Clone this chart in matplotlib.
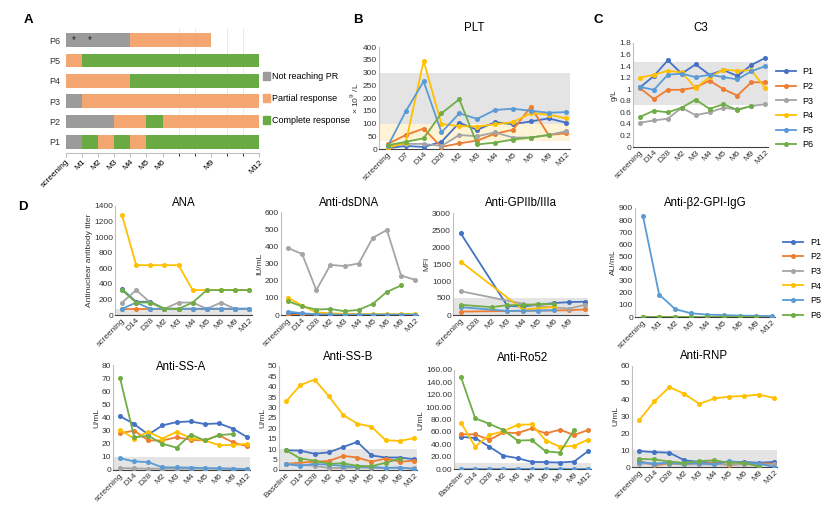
import numpy as np
import matplotlib
matplotlib.use("Agg")
import matplotlib.pyplot as plt
from matplotlib.patches import Patch

plt.rcParams['font.family'] = ['Liberation Sans', 'DejaVu Sans']

W, H = 831, 514

patients = ['P1', 'P2', 'P3', 'P4', 'P5', 'P6']
colors = ['#4472C4', '#ED7D31', '#A5A5A5', '#FFC000', '#5B9BD5', '#70AD47']
nan = np.nan

# ---- panel A : response over months (start month, end month, status)
a_months = [0, 1, 2, 3, 4, 5, 6, 9, 12]
a_labels = ['screening', 'M1', 'M2', 'M3', 'M4', 'M5', 'M6', 'M9', 'M12']
resp_P1 = [(0, 1, 'NR'), (1, 2, 'CR'), (2, 3, 'PR'), (3, 4, 'CR'), (4, 5, 'PR'), (5, 12, 'CR')]
resp_P2 = [(0, 3, 'NR'), (3, 5, 'PR'), (5, 6, 'CR'), (6, 12, 'PR')]
resp_P3 = [(0, 1, 'NR'), (1, 12, 'PR')]
resp_P4 = [(0, 4, 'PR'), (4, 12, 'CR')]
resp_P5 = [(0, 1, 'PR'), (1, 12, 'CR')]
resp_P6 = [(0, 4, 'NR'), (4, 9, 'PR')]
star_months_P6 = [0.5, 1.5]
resp_colors = {'NR': '#9B9B9B', 'PR': '#F3A66F', 'CR': '#6AAA43'}
resp_names = {'NR': 'Not reaching PR', 'PR': 'Partial response', 'CR': 'Complete response'}

# ---- panel B : PLT
plt_cats = ['screening', 'D7', 'D14', 'D28', 'M2', 'M3', 'M4', 'M5', 'M6', 'M9', 'M12']
plt_P1 = [3, 12, 8, 28, 103, 75, 105, 97, 108, 120, 103]
plt_P2 = [20, 55, 80, 8, 22, 33, 60, 75, 165, 55, 62]
plt_P3 = [10, 20, 20, 12, 55, 50, 65, 45, 45, 55, 70]
plt_P4 = [5, 25, 345, 98, 90, 88, 97, 105, 140, 135, 120]
plt_P5 = [12, 148, 265, 65, 140, 118, 153, 158, 150, 142, 145]
plt_P6 = [15, 28, 42, 140, 195, 18, 25, 37, 45, 55, nan]

# ---- panel C : C3
c3_cats = ['screening', 'D14', 'D28', 'M2', 'M3', 'M4', 'M5', 'M6', 'M9', 'M12']
c3_P1 = [1.03, 1.23, 1.50, 1.27, 1.43, 1.25, 1.33, 1.23, 1.42, 1.54]
c3_P2 = [1.02, 0.83, 0.99, 0.99, 1.03, 1.15, 1.00, 0.89, 1.12, 1.12]
c3_P3 = [0.42, 0.46, 0.49, 0.68, 0.55, 0.60, 0.68, 0.65, 0.71, 0.74]
c3_P4 = [1.20, 1.25, 1.32, 1.29, 1.02, 1.21, 1.34, 1.32, 1.33, 1.02]
c3_P5 = [1.04, 0.99, 1.25, 1.27, 1.21, 1.25, 1.21, 1.17, 1.31, 1.40]
c3_P6 = [0.52, 0.63, 0.60, 0.68, 0.82, 0.66, 0.74, 0.64, 0.71, nan]

# ---- panel D
d_cats = ['screening', 'D14', 'D28', 'M2', 'M3', 'M4', 'M5', 'M6', 'M9', 'M12']
base_cats = ['Baseline', 'D14', 'D28', 'M2', 'M3', 'M4', 'M5', 'M6', 'M9', 'M12']
gp_cats = ['screening', 'D28', 'M2', 'M3', 'M4', 'M5', 'M6', 'M9', '']
b2_cats = ['screening', 'M1', 'M2', 'M3', 'M4', 'M5', 'M6', 'M9', 'M12']

ana_P1 = [330, 170, 170, 80, 80, 80, 80, 80, 80, 80]
ana_P2 = [80, 80, 80, 80, 80, 80, 80, 80, 80, 80]
ana_P3 = [160, 320, 160, 80, 160, 160, 80, 160, 80, 80]
ana_P4 = [1280, 640, 640, 640, 640, 320, 320, 320, 320, 320]
ana_P5 = [80, 160, 80, 80, 80, 80, 80, 80, 80, 80]
ana_P6 = [320, 160, 160, 80, 80, 160, 320, 320, 320, 320]

ds_P1 = [10, 5, 3, 2, 2, 2, 2, 2, 2, 2]
ds_P2 = [2, 2, 2, 2, 2, 2, 2, 2, 2, 2]
ds_P3 = [390, 355, 145, 292, 285, 300, 450, 495, 230, 205]
ds_P4 = [100, 55, 15, 10, 7, 5, 5, 5, 5, 5]
ds_P5 = [20, 10, 5, 3, 2, 2, 2, 2, 2, 2]
ds_P6 = [80, 50, 32, 35, 22, 30, 65, 135, 172, nan]

gp_P1 = [2400, nan, nan, 270, 250, 300, 350, 380, 390]
gp_P2 = [100, nan, nan, nan, nan, nan, nan, 140, 165]
gp_P3 = [700, nan, nan, nan, 330, 270, 220, 190, 300]
gp_P4 = [1570, nan, nan, nan, 160, nan, 240, nan, nan]
gp_P5 = [230, nan, nan, 120, 125, 130, 140, nan, nan]
gp_P6 = [300, nan, 230, 290, 290, 320, 320, nan, nan]

b2_P1 = [1, 1, 1, 1, 1, 1, 1, 1, 1]
b2_P2 = [1, 1, 1, 1, 1, 1, 1, 1, 1]
b2_P3 = [1, 1, 1, 1, 1, 1, 1, 1, 1]
b2_P4 = [1, 1, 1, 1, 1, 1, 1, 1, 1]
b2_P5 = [830, 185, 65, 30, 20, 15, 12, 10, 8]
b2_P6 = [2, 2, 2, 2, 2, 2, 2, 2, nan]

ssa_P1 = [41, 35, 27, 34, 36.5, 37, 35, 35.5, 31.5, 25]
ssa_P2 = [28, 30, 22.5, 22.5, 25, 23, 22.5, 26.5, 21, 18]
ssa_P3 = [1.5, 1.2, 1, 1, 1, 1, 1, 1, 1, 0.8]
ssa_P4 = [30.5, 24, 29, 24, 29, 24.5, 22.5, 19, 19, 20]
ssa_P5 = [9, 6.5, 6, 2, 2, 1.8, 1.5, 1.2, 1, 0.5]
ssa_P6 = [70, 25, 26, 20, 17, 27, 22.5, 26.5, 27.5, nan]

ssb_P1 = [9.5, 9.3, 7.8, 8.5, 11, 13.5, 7, 6, 6, 5.2]
ssb_P2 = [3, 3.5, 4, 4.3, 6.8, 6, 4, 5.5, 4, 4.5]
ssb_P3 = [3, 2.5, 2, 1, 1, 1.2, 1, 1, 1, 0.8]
ssb_P4 = [33, 40.8, 43.5, 35.5, 26.5, 22.3, 20.8, 14.3, 14, 15.3]
ssb_P5 = [2.8, 2, 3, 2.5, 2, 1.5, 1.5, 1, 1.2, 0.5]
ssb_P6 = [9.5, 5.5, 4.5, 3, 3.2, 2, 1.8, 3.5, 5.5, nan]

ro_P1 = [52, 50, 36, 21.5, 17.5, 11.5, 11, 10.5, 12, 29]
ro_P2 = [56, 56, 47, 59, 58, 65.5, 57.5, 63.5, 55, 63]
ro_P3 = [0.3, 0.3, 0.3, 0.3, 0.3, 0.3, 0.3, 0.3, 0.3, 0.3]
ro_P4 = [74.5, 36, 55, 61, 71.5, 72, 46, 36, 37.5, 47.5]
ro_P5 = [0.6, 0.6, 0.6, 0.6, 0.6, 0.6, 0.6, 0.6, 0.6, 0.6]
ro_P6 = [148, 82, 73, 63, 46, 46.5, 28.5, 26.5, 63, nan]

rnp_P1 = [9.5, 8.8, 8.5, 4, 3, 2.5, 3, 3, 2.5, 3]
rnp_P2 = [3.5, 1, 2, 1.5, 2, 2.5, 1, 2, 2, 2]
rnp_P3 = [2, 2, 2, 1.5, 1.5, 1.5, 1.5, 1.5, 1.5, 1.5]
rnp_P4 = [28, 39, 47.5, 43.5, 37.5, 40.7, 41.8, 42.2, 43, 41]
rnp_P5 = [3, 2, 2.5, 2, 2.5, 1.5, 3.5, 2.5, 2, 0]
rnp_P6 = [4.8, 4.5, 3.2, 2.5, 3.5, 4, 2.5, 2.5, 0.2, nan]

fig = plt.figure(figsize=(W / 100, H / 100), dpi=100)
fig.patch.set_facecolor('white')

TICK = 6
TITLE = 8.3


def px_axes(l, t, r, b):
    return fig.add_axes([l / W, 1 - b / H, (r - l) / W, (b - t) / H])


def fig_text(x, y, s, **kw):
    fig.text(x / W, 1 - y / H, s, **kw)


def style_axes(ax):
    for s in ['top', 'right']:
        ax.spines[s].set_visible(False)
    ax.spines['left'].set_color('#BFBFBF')
    ax.spines['bottom'].set_color('#404040')
    ax.spines['left'].set_linewidth(0.8)
    ax.spines['bottom'].set_linewidth(0.8)
    ax.tick_params(axis='both', labelsize=TICK, length=0, pad=1.5, colors='#333333')


def line_panel(box, title, title_y, cats, series, ylim, ystep, ylabel,
               band=None, fmt=None, legend_box=None):
    ax = px_axes(*box)
    style_axes(ax)
    n = len(cats)
    x = np.arange(n)
    if band is not None:
        ax.axhspan(band[0], band[1], color='#E4E4E4', lw=0, zorder=0)
    for vals, c, name in zip(series, colors, patients):
        v = np.array(vals, dtype=float)
        m = ~np.isnan(v)
        ax.plot(x[m], v[m], color=c, lw=1.3, marker='o', ms=2.6, label=name, zorder=3)
    ax.set_xlim(-0.5, n - 0.8)
    ax.set_ylim(*ylim)
    ax.set_yticks(np.arange(ylim[0], ylim[1] + ystep / 2, ystep))
    if fmt is not None:
        ax.set_yticklabels([fmt.format(t) for t in ax.get_yticks()])
    ax.set_xticks(x)
    ax.set_xticklabels(cats, rotation=45, ha='right', rotation_mode='anchor')
    ax.set_ylabel(ylabel, fontsize=6, labelpad=1, color='#333333')
    l, t, r, b = box
    fig_text((l + r) / 2, title_y, title, fontsize=TITLE, ha='center', va='center')
    if legend_box is not None:
        ax.legend(loc='upper left', bbox_to_anchor=legend_box, frameon=False,
                  fontsize=6.5, handlelength=2.2, labelspacing=0.62, borderaxespad=0)
    return ax


# ---- panel A
axA = px_axes(66, 28, 259, 153)
resp_all = [resp_P1, resp_P2, resp_P3, resp_P4, resp_P5, resp_P6]
for i, segs in enumerate(resp_all):
    for s0, s1, st in segs:
        axA.barh(i, s1 - s0, left=s0, height=0.68, color=resp_colors[st], lw=0, zorder=2)
for sm in star_months_P6:
    axA.text(sm, 5, '*', ha='center', va='center', fontsize=7, color='#222222', zorder=3)
axA.set_xlim(0, 12)
axA.set_ylim(-0.55, 5.6)
axA.set_xticks(range(13), minor=True)
axA.grid(axis='x', which='minor', color='#E6E6E6', lw=0.6, zorder=0)
axA.set_xticks(a_months)
axA.set_xticklabels(a_labels, rotation=45, ha='right', rotation_mode='anchor')
axA.set_yticks(range(6))
axA.set_yticklabels(patients)
for s in ['top', 'right', 'left']:
    axA.spines[s].set_visible(False)
axA.spines['bottom'].set_color('#BFBFBF')
axA.tick_params(axis='x', labelsize=TICK, length=3, color='#BFBFBF', pad=1)
axA.tick_params(axis='y', labelsize=6.5, length=0, pad=4, colors='#333333')
handles = [Patch(color=resp_colors[k], label=resp_names[k]) for k in ['NR', 'PR', 'CR']]
axA.legend(handles=handles, loc='upper left', bbox_to_anchor=(1.0, 0.68), frameon=False,
           fontsize=6.5, handlelength=0.8, handleheight=1.0, handletextpad=0.2,
           labelspacing=1.45, borderaxespad=0)

# ---- panel B
axB = line_panel((379, 47, 570, 149), 'PLT', 28, plt_cats,
                 [plt_P1, plt_P2, plt_P3, plt_P4, plt_P5, plt_P6],
                 (0, 400), 50, '× 10$^9$ /L')
axB.axhspan(100, 300, color='#E4E4E4', lw=0, zorder=0)
axB.axhspan(30, 100, color='#FFF3D6', lw=0, zorder=0)

# ---- panel C
line_panel((633, 43, 768, 147), 'C3', 28, c3_cats,
           [c3_P1, c3_P2, c3_P3, c3_P4, c3_P5, c3_P6],
           (0, 1.8), 0.2, 'g/L', band=(0.72, 1.47), fmt='{:g}',
           legend_box=(1.03, 0.8))

# ---- panel D, first row
line_panel((115, 206, 252, 315), 'ANA', 203, d_cats,
           [ana_P1, ana_P2, ana_P3, ana_P4, ana_P5, ana_P6],
           (0, 1400), 200, 'Antinuclear antibody titer', band=(0, 80))
line_panel((281, 212, 418, 315), 'Anti-dsDNA', 203, d_cats,
           [ds_P1, ds_P2, ds_P3, ds_P4, ds_P5, ds_P6],
           (0, 600), 100, 'IU/mL')
line_panel((453, 213, 588, 315), 'Anti-GPIIb/IIIa', 203, gp_cats,
           [gp_P1, gp_P2, gp_P3, gp_P4, gp_P5, gp_P6],
           (0, 3000), 500, 'MFI', band=(0, 490))
line_panel((635, 208, 775, 317), 'Anti-β2-GPI-IgG', 203, b2_cats,
           [b2_P1, b2_P2, b2_P3, b2_P4, b2_P5, b2_P6],
           (0, 900), 100, 'AU/mL', legend_box=(1.03, 0.76))

# ---- panel D, second row
line_panel((113, 365, 250, 470), 'Anti-SS-A', 367, d_cats,
           [ssa_P1, ssa_P2, ssa_P3, ssa_P4, ssa_P5, ssa_P6],
           (0, 80), 10, 'U/mL', band=(0, 10))
line_panel((279, 366, 417, 470), 'Anti-SS-B', 357, base_cats,
           [ssb_P1, ssb_P2, ssb_P3, ssb_P4, ssb_P5, ssb_P6],
           (0, 50), 5, 'U/mL', band=(0, 10))
line_panel((454, 370, 591, 469), 'Anti-Ro52', 358, base_cats,
           [ro_P1, ro_P2, ro_P3, ro_P4, ro_P5, ro_P6],
           (0, 160), 20, 'U/mL', band=(0, 10), fmt='{:.2f}')
line_panel((632, 366, 777, 467), 'Anti-RNP', 356, d_cats,
           [rnp_P1, rnp_P2, rnp_P3, rnp_P4, rnp_P5, rnp_P6],
           (0, 60), 10, 'U/mL', band=(0, 10))

# panel letters
for letter, (px, py) in {'A': (28, 20), 'B': (358, 20), 'C': (598, 20), 'D': (23, 207)}.items():
    fig_text(px, py, letter, fontsize=9.5, fontweight='bold', ha='center', va='center')

fig.savefig('out.png', dpi=100)
